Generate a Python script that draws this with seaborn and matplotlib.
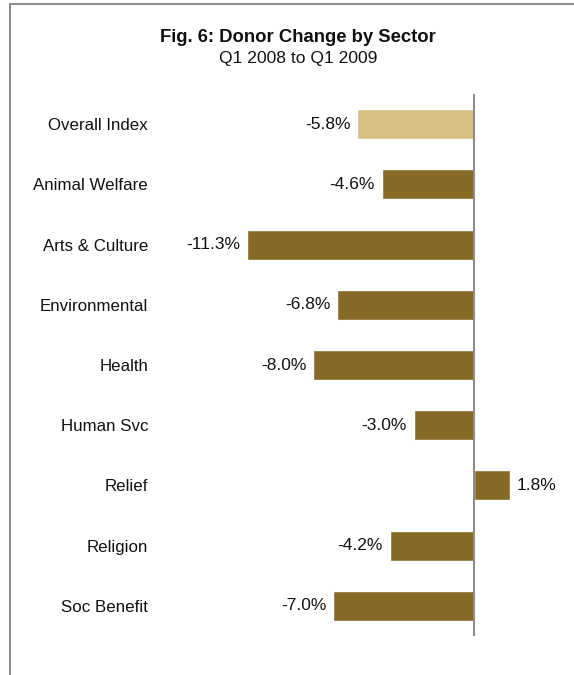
import matplotlib
matplotlib.use("Agg")
import matplotlib.pyplot as plt
import seaborn as sns
import pandas as pd
from matplotlib.lines import Line2D

sectors = ["Overall Index", "Animal Welfare", "Arts & Culture", "Environmental",
           "Health", "Human Svc", "Relief", "Religion", "Soc Benefit"]
change = [-5.8, -4.6, -11.3, -6.8, -8.0, -3.0, 1.8, -4.2, -7.0]
bar_colors = ["#D8C084"] + ["#876A26"] * 8

df = pd.DataFrame({"Sector": sectors, "Change": change})

sns.set_theme(style="white")
plt.rcParams["font.family"] = ["Liberation Sans", "DejaVu Sans"]

fig = plt.figure(figsize=(5.74, 6.75), dpi=100)
ax = fig.add_axes([160 / 574, 1 - 636 / 675, 400 / 574, 542 / 675])

sns.barplot(data=df, x="Change", y="Sector", hue="Sector", palette=bar_colors,
            legend=False, width=0.5, saturation=1, ax=ax, orient="h")

ax.set_xlim((160 - 474) / 20.1, (560 - 474) / 20.1)
ax.set_ylim(8.5, -0.5)
ax.axvline(0, color="#8c8c8c", lw=1.5)
for s in ax.spines.values():
    s.set_visible(False)
ax.set_xticks([])
ax.set_xlabel("")
ax.set_ylabel("")
ax.tick_params(axis="y", length=0, pad=8.6, labelsize=12.2, labelcolor="#111111")

for i, v in enumerate(change):
    if v < 0:
        ax.annotate(f"{v:.1f}%", (v, i), xytext=(-5, 0), textcoords="offset points",
                    ha="right", va="center", fontsize=12.5, color="#111111")
    else:
        ax.annotate(f"{v:.1f}%", (v, i), xytext=(5, 0), textcoords="offset points",
                    ha="left", va="center", fontsize=12.5, color="#111111")

fig.text(298 / 574, 1 - 37 / 675, "Fig. 6: Donor Change by Sector", ha="center",
         va="center", fontsize=13.3, fontweight="bold", color="#111111")
fig.text(298 / 574, 1 - 58 / 675, "Q1 2008 to Q1 2009", ha="center",
         va="center", fontsize=12.6, color="#111111")

# frame of the original figure box
fig.add_artist(Line2D([10 / 574, 10 / 574], [0, 1 - 4 / 675], color="#8c8c8c", lw=1.5))
fig.add_artist(Line2D([10 / 574, 1], [1 - 4 / 675, 1 - 4 / 675], color="#8c8c8c", lw=1.5))

fig.savefig("out.png", dpi=100)
